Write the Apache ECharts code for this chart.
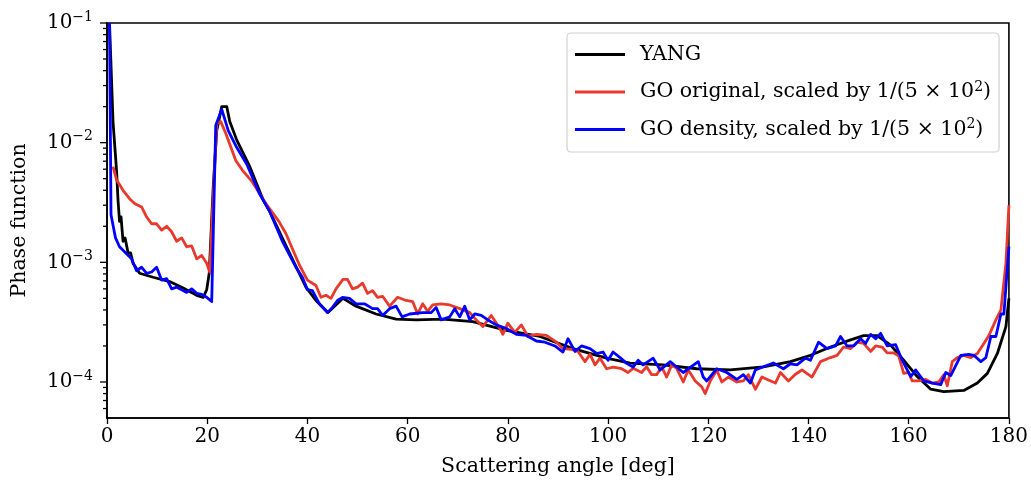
<!DOCTYPE html>
<html>
<head>
<meta charset="utf-8">
<script src="https://cdn.jsdelivr.net/npm/echarts@6/dist/echarts.min.js"></script>
<style>
  html, body { margin: 0; padding: 0; background: #fff; }
  #chart { width: 1031px; height: 492px; }
</style>
</head>
<body>
<div id="chart"></div>
<script>
// YANG reference phase function
const yangAngle = [0.5, 1.2, 1.9, 2.2, 2.5, 2.8, 3.2, 3.6, 4.2, 4.7, 5.2, 6.5, 9.2, 12.5, 15.2, 17.9, 19.2, 19.9, 20.4, 21.2, 21.9, 22.9, 23.9, 24.5, 25.9, 28.5, 31.2, 32.4, 36.4, 39.7, 41.7, 44.1, 47.1, 49.7, 53.7, 57.7, 61.7, 67, 73, 79.7, 86.4, 93, 99.7, 104.4, 111, 117.7, 124.4, 131, 136.4, 140.4, 144.4, 148.4, 151, 153.7, 156.4, 159, 161.7, 164.4, 167, 171, 173.7, 175.7, 177.7, 179.4, 180];
const yangValue = [1.0e-1, 1.5e-2, 5.9e-3, 3.3e-3, 2.2e-3, 2.4e-3, 1.5e-3, 1.6e-3, 1.2e-3, 1.2e-3, 9.8e-4, 8.1e-4, 7.5e-4, 6.9e-4, 6.1e-4, 5.3e-4, 5.1e-4, 5.9e-4, 8.1e-4, 4.3e-3, 1.26e-2, 2.0e-2, 2.0e-2, 1.5e-2, 1.05e-2, 6.3e-3, 3.3e-3, 2.7e-3, 1.2e-3, 6.2e-4, 4.8e-4, 3.8e-4, 5.0e-4, 4.3e-4, 3.7e-4, 3.35e-4, 3.3e-4, 3.35e-4, 3.2e-4, 2.7e-4, 2.4e-4, 1.9e-4, 1.58e-4, 1.44e-4, 1.39e-4, 1.29e-4, 1.26e-4, 1.34e-4, 1.48e-4, 1.67e-4, 1.96e-4, 2.25e-4, 2.44e-4, 2.44e-4, 2.03e-4, 1.52e-4, 1.11e-4, 8.7e-5, 8.3e-5, 8.5e-5, 9.8e-5, 1.18e-4, 1.73e-4, 2.9e-4, 5.0e-4];

// GO original (scaled)
const origAngle = [1.2, 1.9, 3.2, 4.5, 5.5, 6.9, 7.9, 8.9, 9.9, 10.9, 11.9, 12.9, 13.9, 14.9, 15.9, 16.9, 17.9, 18.9, 19.9, 20.5, 21.9, 22.7, 23.7, 25.7, 27, 29, 31.7, 34.3, 35.7, 37, 38.4, 40, 41.7, 42.7, 43.7, 44.7, 45.7, 47.1, 48, 49, 50, 51, 52, 53, 54, 55, 56.4, 58, 59.7, 61, 62, 63, 64, 65, 66.7, 68.4, 70.4, 72.4, 73.7, 75, 76.7, 78.4, 79, 80, 81.4, 82.7, 84, 85.7, 87.7, 89.7, 91, 92.7, 94, 95.4, 96.4, 97.4, 98.4, 99.7, 101, 102.7, 104, 105, 106.7, 107.7, 108.7, 109.7, 110.7, 111.7, 112.7, 113.7, 115, 116, 117.4, 118.7, 119.4, 120.4, 121.7, 122.7, 124, 125.7, 127, 128, 129.4, 130.7, 132, 133.4, 134.4, 136, 137.4, 138.7, 140.7, 142.4, 144.4, 145.7, 147, 148.4, 149.7, 151, 152.4, 153.4, 154.7, 155.7, 157, 158, 159, 160, 160.7, 162, 163.4, 164.7, 166, 167, 167.7, 168.7, 169.7, 171, 172.4, 173.7, 175, 176, 177.4, 178.4, 179.4, 180];
const origValue = [6.3e-3, 4.9e-3, 4.0e-3, 3.4e-3, 3.1e-3, 2.9e-3, 2.4e-3, 2.1e-3, 2.1e-3, 1.86e-3, 2.0e-3, 1.8e-3, 1.5e-3, 1.6e-3, 1.35e-3, 1.37e-3, 1.07e-3, 1.14e-3, 9.8e-4, 8.3e-4, 1.45e-2, 1.5e-2, 1.2e-2, 7.1e-3, 5.9e-3, 4.7e-3, 3.1e-3, 2.2e-3, 1.74e-3, 1.3e-3, 9.5e-4, 7.1e-4, 6.4e-4, 5.1e-4, 5.3e-4, 5.0e-4, 6.0e-4, 7.2e-4, 7.2e-4, 6.0e-4, 6.2e-4, 6.7e-4, 5.5e-4, 5.8e-4, 5.1e-4, 5.2e-4, 4.3e-4, 5.1e-4, 4.8e-4, 4.7e-4, 3.7e-4, 4.5e-4, 3.9e-4, 4.4e-4, 4.5e-4, 4.4e-4, 4.1e-4, 3.8e-4, 3.3e-4, 2.9e-4, 3.6e-4, 2.8e-4, 2.5e-4, 3.1e-4, 2.6e-4, 3.0e-4, 2.4e-4, 2.5e-4, 2.45e-4, 2.15e-4, 1.9e-4, 1.87e-4, 1.8e-4, 1.48e-4, 1.7e-4, 1.39e-4, 1.58e-4, 1.29e-4, 1.33e-4, 1.29e-4, 1.2e-4, 1.3e-4, 1.2e-4, 1.34e-4, 1.15e-4, 1.15e-4, 1.34e-4, 1.1e-4, 1.39e-4, 1.3e-4, 1.0e-4, 1.26e-4, 1.02e-4, 9.1e-5, 8.0e-5, 1.02e-4, 1.26e-4, 1.0e-4, 1.1e-4, 1.0e-4, 1.02e-4, 1.15e-4, 8.7e-5, 1.1e-4, 1.04e-4, 9.8e-5, 1.2e-4, 1.02e-4, 1.16e-4, 1.26e-4, 1.1e-4, 1.48e-4, 1.6e-4, 1.67e-4, 1.96e-4, 1.9e-4, 2.15e-4, 2.1e-4, 1.8e-4, 2.0e-4, 1.96e-4, 1.75e-4, 1.75e-4, 1.65e-4, 1.18e-4, 1.2e-4, 1.02e-4, 1.02e-4, 1.05e-4, 9.8e-5, 1.0e-4, 1.15e-4, 9.3e-5, 1.48e-4, 1.6e-4, 1.67e-4, 1.6e-4, 1.73e-4, 2.1e-4, 2.44e-4, 3.3e-4, 4.0e-4, 9.8e-4, 3.0e-3];

// GO density (scaled)
const densAngle = [0.5, 0.8, 1.7, 2.5, 3.9, 4.9, 5.9, 6.9, 7.9, 8.9, 9.9, 10.9, 11.9, 12.9, 13.9, 14.9, 15.9, 16.9, 17.9, 18.9, 19.9, 20.9, 21.7, 22.9, 24.2, 25.9, 27.9, 30.5, 32.4, 35, 37.7, 39, 40, 41, 42.4, 44, 45, 46, 47, 48.4, 49.7, 51.4, 53, 54, 55, 56.4, 57.7, 58.9, 60.4, 63, 64.7, 65.7, 66.7, 68.4, 69.4, 70.4, 71.4, 72.4, 73.4, 74.7, 76, 77.7, 79.7, 81.7, 83.7, 85.7, 87.4, 89.4, 91, 92, 93.4, 94.7, 96.4, 97.7, 99, 100, 101, 102.4, 103.7, 105, 106, 107, 109, 110.4, 112.4, 115, 118, 119, 119.7, 121.7, 123.7, 125.7, 127, 128.4, 129.4, 131, 133, 135, 136.4, 137.7, 139.4, 140.4, 142, 143.7, 145.4, 146.4, 147.7, 149, 150.4, 151.4, 152.4, 153.4, 154.4, 155.7, 157.4, 158.7, 160.4, 161.4, 163, 164.7, 166.4, 167.4, 168.4, 170.4, 172, 173, 174.4, 175.4, 176.4, 177.4, 178.4, 179, 180];
const densValue = [1.0e-1, 2.5e-3, 1.6e-3, 1.35e-3, 1.18e-3, 1.07e-3, 8.5e-4, 9.1e-4, 8.1e-4, 8.3e-4, 9.1e-4, 7.1e-4, 7.3e-4, 6.0e-4, 6.2e-4, 5.9e-4, 5.6e-4, 6.0e-4, 5.5e-4, 5.4e-4, 5.1e-4, 4.7e-4, 1.39e-2, 1.9e-2, 1.26e-2, 9.1e-3, 6.6e-3, 3.7e-3, 2.7e-3, 1.5e-3, 9.1e-4, 7.5e-4, 5.9e-4, 5.8e-4, 4.5e-4, 3.8e-4, 4.2e-4, 4.8e-4, 5.1e-4, 5.0e-4, 4.5e-4, 4.5e-4, 4.1e-4, 4.1e-4, 3.6e-4, 4.1e-4, 4.3e-4, 3.5e-4, 3.7e-4, 3.8e-4, 3.8e-4, 4.2e-4, 3.3e-4, 3.5e-4, 4.1e-4, 3.5e-4, 4.3e-4, 3.3e-4, 3.7e-4, 3.6e-4, 3.3e-4, 3.0e-4, 2.8e-4, 2.5e-4, 2.45e-4, 2.2e-4, 2.15e-4, 2.0e-4, 1.78e-4, 2.3e-4, 1.8e-4, 2.0e-4, 1.9e-4, 1.73e-4, 1.78e-4, 1.52e-4, 1.78e-4, 1.6e-4, 1.43e-4, 1.33e-4, 1.52e-4, 1.39e-4, 1.58e-4, 1.26e-4, 1.48e-4, 1.2e-4, 1.48e-4, 1.1e-4, 1.02e-4, 1.29e-4, 1.2e-4, 1.05e-4, 1.15e-4, 9.8e-5, 1.26e-4, 1.34e-4, 1.44e-4, 1.29e-4, 1.42e-4, 1.39e-4, 1.58e-4, 1.52e-4, 2.15e-4, 1.9e-4, 2.0e-4, 2.4e-4, 2.0e-4, 2.0e-4, 2.3e-4, 2.1e-4, 2.5e-4, 2.3e-4, 2.55e-4, 2.0e-4, 2.05e-4, 1.52e-4, 1.11e-4, 1.26e-4, 1.02e-4, 9.8e-5, 9.5e-5, 1.2e-4, 1.13e-4, 1.67e-4, 1.7e-4, 1.67e-4, 1.48e-4, 1.6e-4, 2.4e-4, 2.4e-4, 3.7e-4, 3.7e-4, 1.35e-3];

// log axis tick positions (major decades + minor 2..9)
const yMajorTicks = [1e-4, 1e-3, 1e-2, 1e-1];
const yMinorTicks = [6e-5, 7e-5, 8e-5, 9e-5,
  2e-4, 3e-4, 4e-4, 5e-4, 6e-4, 7e-4, 8e-4, 9e-4,
  2e-3, 3e-3, 4e-3, 5e-3, 6e-3, 7e-3, 8e-3, 9e-3,
  2e-2, 3e-2, 4e-2, 5e-2, 6e-2, 7e-2, 8e-2, 9e-2];

const FONT = '"DejaVu Serif", "Liberation Serif", serif';

function zip(a, b) {
  return a.map((x, i) => [x, b[i]]);
}

function supLabel(v) {
  const e = Math.round(Math.log10(v));
  if (Math.abs(Math.log10(v) - e) > 1e-6) return '';
  return '{b|10}{sup|' + (e < 0 ? '\u2212' + (-e) : e) + '}';
}

const legendText = {
  'YANG': '{t|YANG}',
  'GO original': '{t|GO original, scaled by 1/(5 \u00d7 10}{sup|2}{t|)}',
  'GO density': '{t|GO density, scaled by 1/(5 \u00d7 10}{sup|2}{t|)}'
};

function tickSeries(values, len) {
  return {
    type: 'custom',
    silent: true,
    clip: false,
    z: 5,
    data: values.map(v => [0, v]),
    renderItem: function (params, api) {
      const p = api.coord([0, api.value(1)]);
      return {
        type: 'line',
        shape: { x1: p[0] - len, y1: p[1], x2: p[0], y2: p[1] },
        style: { stroke: '#000', lineWidth: 1.3 }
      };
    }
  };
}

function lineSeries(name, color, angles, values, z) {
  return {
    name: name,
    type: 'line',
    showSymbol: false,
    z: z,
    clip: true,
    data: zip(angles, values),
    lineStyle: { color: color, width: 2.8, join: 'round' },
    itemStyle: { color: color }
  };
}

const chart = echarts.init(document.getElementById('chart'));

chart.setOption({
  animation: false,
  backgroundColor: '#fff',
  textStyle: { fontFamily: FONT },
  grid: {
    left: 107, right: 21, top: 23, bottom: 74,
    show: true, borderColor: '#000', borderWidth: 1.6, backgroundColor: 'transparent'
  },
  legend: {
    orient: 'vertical',
    left: 567, top: 33,
    padding: [11, 8, 12, 8],
    itemGap: 15,
    itemWidth: 50,
    itemHeight: 3,
    icon: 'rect',
    backgroundColor: 'rgba(255,255,255,0.8)',
    borderColor: '#d0d0d0',
    borderWidth: 1.2,
    borderRadius: 4,
    data: ['YANG', 'GO original', 'GO density'],
    formatter: name => legendText[name],
    textStyle: {
      padding: [0, 0, 0, 10],
      rich: {
        t: { fontFamily: FONT, fontSize: 20.5, color: '#000', lineHeight: 24 },
        sup: { fontFamily: FONT, fontSize: 14, color: '#000', lineHeight: 24, verticalAlign: 'top' }
      }
    }
  },
  xAxis: {
    type: 'value',
    min: 0, max: 180, interval: 20,
    name: 'Scattering angle [deg]',
    nameLocation: 'middle',
    nameGap: 38,
    nameTextStyle: { fontFamily: FONT, fontSize: 20.5, color: '#000' },
    axisLine: { lineStyle: { color: '#000', width: 1.6 } },
    axisTick: { inside: false, length: 6, lineStyle: { color: '#000', width: 1.3 } },
    axisLabel: { fontFamily: FONT, fontSize: 20, color: '#000', margin: 9 },
    splitLine: { show: false }
  },
  yAxis: {
    type: 'log',
    logBase: 10,
    min: 5e-5, max: 1e-1,
    name: 'Phase function',
    nameLocation: 'middle',
    nameGap: 77,
    nameTextStyle: { fontFamily: FONT, fontSize: 20.5, color: '#000' },
    axisLine: { show: true, lineStyle: { color: '#000', width: 1.6 } },
    axisTick: { show: false },
    axisLabel: {
      margin: 14,
      formatter: supLabel,
      rich: {
        b: { fontFamily: FONT, fontSize: 20, color: '#000', lineHeight: 26 },
        sup: { fontFamily: FONT, fontSize: 14, color: '#000', lineHeight: 26, verticalAlign: 'top' }
      }
    },
    splitLine: { show: false },
    minorTick: { show: false }
  },
  series: [
    lineSeries('YANG', '#000000', yangAngle, yangValue, 2),
    lineSeries('GO original', '#e8392c', origAngle, origValue, 3),
    lineSeries('GO density', '#0000ff', densAngle, densValue, 4),
    tickSeries(yMajorTicks, 7),
    tickSeries(yMinorTicks, 4)
  ]
});
</script>
</body>
</html>
